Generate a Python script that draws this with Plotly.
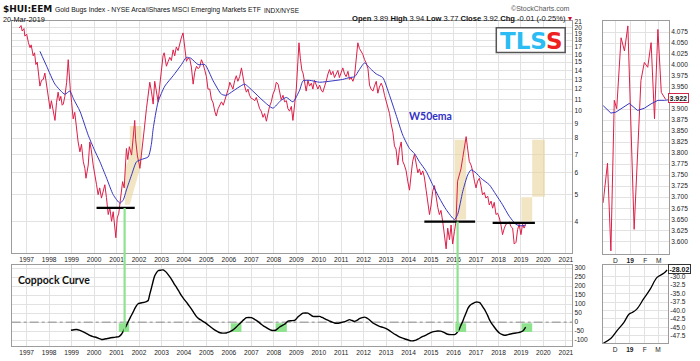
import math
import plotly.graph_objects as go

W, H = 700, 361

# ---------------- data ----------------
# weekly-ish HUI:EEM ratio (decimal years, ratio)
ratio_t = [
    1996.67, 1996.75, 1996.80, 1996.88, 1996.92,
    1997.00, 1997.08, 1997.15, 1997.20, 1997.29, 1997.35, 1997.41, 1997.47, 1997.52, 1997.59, 1997.66, 1997.74, 1997.81, 1997.87, 1997.93,
    1998.00, 1998.04, 1998.10, 1998.18, 1998.26, 1998.33, 1998.40, 1998.46, 1998.52, 1998.58, 1998.63, 1998.70, 1998.78, 1998.85, 1998.89, 1998.94,
    1999.00, 1999.07, 1999.14, 1999.22, 1999.29, 1999.37, 1999.44, 1999.52, 1999.59, 1999.64, 1999.70, 1999.74, 1999.81, 1999.87, 1999.96,
    2000.04, 2000.11, 2000.18, 2000.25, 2000.33, 2000.40, 2000.48, 2000.55, 2000.63, 2000.70, 2000.78, 2000.85, 2000.92, 2000.97,
    2001.03, 2001.10, 2001.18, 2001.27, 2001.34, 2001.40, 2001.44, 2001.50, 2001.57, 2001.67, 2001.74, 2001.81, 2001.85, 2001.93,
    2002.00, 2002.04, 2002.10, 2002.16, 2002.24, 2002.33, 2002.40, 2002.48, 2002.55, 2002.63, 2002.70, 2002.77, 2002.85, 2002.93,
    2003.00, 2003.07, 2003.12, 2003.22, 2003.30, 2003.37, 2003.44, 2003.52, 2003.59, 2003.66, 2003.74, 2003.81, 2003.88, 2003.96,
    2004.04, 2004.11, 2004.18, 2004.26, 2004.33, 2004.41, 2004.48, 2004.56, 2004.63, 2004.70, 2004.78, 2004.85, 2004.93,
    2005.00, 2005.07, 2005.15, 2005.22, 2005.30, 2005.37, 2005.44, 2005.52, 2005.60, 2005.67, 2005.75, 2005.83, 2005.92,
    2006.00, 2006.04, 2006.11, 2006.18, 2006.26, 2006.33, 2006.40, 2006.48, 2006.56, 2006.63, 2006.70, 2006.78, 2006.85, 2006.92,
    2007.00, 2007.07, 2007.15, 2007.22, 2007.30, 2007.37, 2007.44, 2007.52, 2007.59, 2007.67, 2007.74, 2007.81, 2007.89, 2007.96,
    2008.04, 2008.11, 2008.19, 2008.26, 2008.33, 2008.41, 2008.48, 2008.56, 2008.63, 2008.70, 2008.78, 2008.85, 2008.93,
    2009.00, 2009.07, 2009.12, 2009.18, 2009.25, 2009.30, 2009.37, 2009.44, 2009.52, 2009.59, 2009.67, 2009.74, 2009.81, 2009.89, 2009.96,
    2010.04, 2010.11, 2010.18, 2010.26, 2010.33, 2010.41, 2010.48, 2010.55, 2010.63, 2010.70, 2010.78, 2010.85, 2010.92,
    2011.00, 2011.07, 2011.15, 2011.22, 2011.30, 2011.37, 2011.44, 2011.52, 2011.59, 2011.66, 2011.74, 2011.81, 2011.88, 2011.96,
    2012.04, 2012.11, 2012.19, 2012.26, 2012.33, 2012.41, 2012.48, 2012.56, 2012.63, 2012.70, 2012.78, 2012.85, 2012.93,
    2013.00, 2013.07, 2013.15, 2013.22, 2013.30, 2013.37, 2013.44, 2013.52, 2013.59, 2013.67, 2013.74, 2013.81, 2013.89, 2013.96,
    2014.04, 2014.11, 2014.18, 2014.26, 2014.33, 2014.41, 2014.48, 2014.55, 2014.63, 2014.70, 2014.78, 2014.85, 2014.93,
    2015.00, 2015.07, 2015.15, 2015.22, 2015.30, 2015.37, 2015.44, 2015.52, 2015.59, 2015.67, 2015.74, 2015.82, 2015.89, 2015.96,
    2016.04, 2016.11, 2016.18, 2016.26, 2016.33, 2016.41, 2016.48, 2016.56, 2016.63, 2016.70, 2016.78, 2016.85, 2016.93,
    2017.00, 2017.07, 2017.15, 2017.22, 2017.29, 2017.37, 2017.44, 2017.52, 2017.59, 2017.67, 2017.74, 2017.81, 2017.89, 2017.96,
    2018.04, 2018.11, 2018.18, 2018.26, 2018.33, 2018.41, 2018.48, 2018.55, 2018.63, 2018.70, 2018.78, 2018.85, 2018.92,
    2019.00, 2019.07, 2019.14, 2019.21,
]
ratio_v = [
    19.9, 20.3, 19.4, 19.8, 18.6,
    18.9, 17.6, 16.9, 17.3, 15.8, 16.2, 14.7, 15.0, 13.7, 12.3, 12.9, 13.0, 13.7, 12.6, 11.5,
    10.6, 10.2, 10.9, 10.0, 9.26, 10.76, 11.7, 10.9, 11.3, 10.5, 10.6, 11.3, 12.7, 15.3, 13.4, 12.0,
    10.76, 9.38, 9.9, 8.64, 7.75, 7.14, 7.6, 6.58, 6.23, 5.74, 6.1, 6.40, 7.75, 7.3, 6.40,
    5.74, 5.44, 5.01, 5.3, 4.87, 5.2, 5.44, 4.9, 4.25, 4.5, 4.02, 4.35, 3.81, 3.51,
    4.13, 4.3, 4.87, 5.58, 5.3, 6.3, 7.34, 6.7, 7.45, 6.95, 8.19, 9.26, 7.9, 6.9,
    6.5, 6.23, 6.9, 7.5, 8.7, 10.2, 11.2, 12.7, 11.8, 10.6, 12.8, 11.8, 10.8, 12.5,
    14.2, 15.8, 16.2, 14.5, 15.1, 15.6, 15.2, 16.6, 15.8, 17.0, 16.5, 17.6, 18.3, 19.1,
    17.0, 15.1, 15.5, 15.4, 14.4, 12.5, 13.8, 14.5, 14.2, 14.4, 15.3, 14.8, 14.0,
    13.3, 12.0, 12.0, 11.05, 10.7, 10.0, 9.6, 10.2, 10.6, 10.8, 10.5, 11.0, 11.7,
    12.2, 12.7, 12.4, 12.0, 12.9, 13.4, 12.8, 13.3, 14.3, 13.0, 12.3, 11.7, 12.0, 11.4,
    11.1, 11.05, 10.9, 11.2, 10.6, 10.2, 10.0, 9.5, 9.8, 9.2, 9.8, 10.4, 10.8, 11.5,
    11.9, 12.7, 12.5, 11.5, 11.0, 11.4, 10.8, 10.9, 10.2, 10.0, 10.4, 9.26, 10.8,
    12.0, 15.0, 17.6, 15.5, 14.0, 13.7, 12.5, 11.8, 12.9, 12.3, 12.6, 12.0, 12.9, 12.4, 12.0,
    12.4, 11.9, 11.7, 12.2, 12.8, 13.6, 14.1, 13.5, 13.9, 13.2, 13.6, 14.0, 13.2,
    13.7, 14.3, 13.6, 13.3, 13.9, 13.0, 13.2, 12.8, 13.3, 15.5, 17.6, 16.8, 16.5, 16.0,
    15.3, 14.9, 14.2, 12.4, 12.0, 11.8, 12.3, 12.8, 11.6, 12.2, 12.6, 12.2, 11.4,
    10.9, 10.3, 9.8, 9.0, 8.4, 7.5, 7.3, 6.4, 7.3, 7.75, 6.6, 6.4, 6.1, 5.6,
    5.2, 5.9, 6.6, 7.0, 6.4, 6.0, 6.2, 5.9, 6.1, 5.8, 5.2, 4.8, 4.25,
    4.6, 5.15, 5.4, 4.9, 4.5, 4.25, 4.4, 4.0, 3.6, 3.2, 3.8, 3.45, 3.9, 3.33,
    3.7, 4.02, 5.6, 5.9, 6.2, 6.8, 7.5, 8.1, 7.3, 6.6, 6.4, 6.1, 5.6,
    5.3, 5.6, 5.74, 5.4, 5.0, 5.1, 4.87, 4.95, 4.6, 4.75, 4.48, 4.7, 4.25, 4.3,
    4.13, 3.9, 3.6, 3.8, 3.92, 3.95, 4.0, 3.85, 3.8, 3.33, 3.38, 3.75, 3.92,
    3.6, 3.92, 3.8, 3.92,
]

# 50-week EMA
ema_t = [1997.59, 1997.89, 1998.26, 1998.70, 1998.92, 1999.10, 1999.37, 1999.74, 2000.00, 2000.26,
         2000.56, 2000.85, 2001.15, 2001.30, 2001.44, 2001.67, 2001.89, 2002.10, 2002.41, 2002.55,
         2002.63, 2002.85, 2003.15, 2003.52, 2003.89, 2004.11, 2004.30, 2004.63, 2004.93, 2005.30,
         2005.67, 2005.89, 2006.18, 2006.45, 2006.70, 2007.07, 2007.52, 2007.96, 2008.30, 2008.56,
         2008.85, 2009.15, 2009.30, 2009.60, 2010.04, 2010.63, 2011.07, 2011.37, 2011.60, 2011.81,
         2012.04, 2012.30, 2012.56, 2012.85, 2013.15, 2013.44, 2013.74, 2014.04, 2014.26, 2014.48,
         2014.78, 2015.07, 2015.37, 2015.67, 2016.04, 2016.18, 2016.41, 2016.63, 2016.78, 2017.00,
         2017.22, 2017.59, 2017.89, 2018.18, 2018.48, 2018.78, 2019.00, 2019.21]
ema_v = [16.4, 14.5, 12.5, 11.5, 11.8, 11.0, 10.0, 8.19, 7.3, 6.58,
         5.74, 5.01, 4.67, 4.8, 5.21, 5.9, 6.58, 6.7, 6.85, 7.6,
         8.64, 10.8, 12.3, 13.4, 14.7, 15.6, 15.5, 14.7, 14.7, 12.85,
         11.5, 11.4, 11.8, 12.2, 12.5, 11.8, 10.9, 10.25, 10.9, 11.2,
         10.8, 11.9, 12.85, 12.9, 12.7, 12.85, 13.0, 13.2, 13.3, 14.1,
         14.9, 14.2, 13.6, 13.2, 11.4, 9.7, 8.2, 7.34, 7.04, 6.58,
         6.08, 5.44, 4.87, 4.43, 4.08, 4.25, 5.15, 5.9, 6.15, 6.0,
         5.74, 5.44, 5.01, 4.61, 4.19, 3.92, 3.87, 3.90]

# Coppock curve
cop_t = [1998.97, 1999.10, 1999.22, 1999.37, 1999.52, 1999.67, 1999.81, 1999.96, 2000.11, 2000.22,
         2000.33, 2000.44, 2000.55, 2000.70, 2000.85, 2000.96, 2001.07, 2001.15, 2001.22, 2001.29,
         2001.36, 2001.44, 2001.51, 2001.62, 2001.74, 2001.81, 2001.89, 2001.96, 2002.04, 2002.15,
         2002.26, 2002.33, 2002.41, 2002.48, 2002.56, 2002.63, 2002.70, 2002.78, 2002.85, 2002.96,
         2003.07, 2003.15, 2003.22, 2003.33, 2003.44, 2003.55, 2003.67, 2003.78, 2003.89, 2004.00,
         2004.11, 2004.22, 2004.33, 2004.44, 2004.55, 2004.67, 2004.78, 2004.89, 2005.00, 2005.11,
         2005.22, 2005.33, 2005.44, 2005.55, 2005.67, 2005.78, 2005.89, 2006.00, 2006.11, 2006.22,
         2006.33, 2006.44, 2006.55, 2006.67, 2006.78, 2006.89, 2007.00, 2007.11, 2007.22, 2007.33,
         2007.44, 2007.55, 2007.67, 2007.78, 2007.89, 2008.00, 2008.08, 2008.17, 2008.26, 2008.37,
         2008.48, 2008.56, 2008.63, 2008.78, 2008.93, 2009.00, 2009.07, 2009.18, 2009.30, 2009.41,
         2009.52, 2009.63, 2009.74, 2009.89, 2010.04, 2010.15, 2010.26, 2010.37, 2010.48, 2010.59,
         2010.70, 2010.81, 2010.92, 2011.07, 2011.22, 2011.37, 2011.48, 2011.59, 2011.70, 2011.81,
         2011.93, 2012.04, 2012.11, 2012.19, 2012.30, 2012.41, 2012.55, 2012.70, 2012.85, 2013.00,
         2013.15, 2013.30, 2013.44, 2013.59, 2013.74, 2013.89, 2014.00, 2014.11, 2014.22, 2014.33,
         2014.44, 2014.55, 2014.70, 2014.85, 2014.96, 2015.07, 2015.18, 2015.30, 2015.41, 2015.52,
         2015.63, 2015.74, 2015.89, 2016.04, 2016.11, 2016.18, 2016.26, 2016.33, 2016.41, 2016.48,
         2016.56, 2016.63, 2016.70, 2016.78, 2016.89, 2017.00, 2017.08, 2017.15, 2017.22, 2017.29,
         2017.37, 2017.44, 2017.52, 2017.59, 2017.70, 2017.81, 2017.92, 2018.04, 2018.15, 2018.26,
         2018.37, 2018.48, 2018.63, 2018.78, 2018.89, 2019.00, 2019.11, 2019.21]
cop_v = [-45, -42, -41, -46, -54, -63, -73, -80, -85, -91,
         -96, -95, -92, -88, -85, -83, -82, -76, -67, -53,
         -36, -18, 0, 28, 56, 75, 92, 102, 105, 108,
         111, 114, 120, 155, 193, 228, 257, 275, 285, 288,
         290, 284, 276, 258, 239, 215, 193, 170, 147, 128,
         111, 92, 74, 52, 32, 18, 10, 1, -8, -19,
         -30, -40, -49, -56, -60, -61, -60, -55, -49, -39,
         -27, -13, 0, 14, 25, 26, 25, 18, 10, 0,
         -12, -22, -30, -39, -45, -46, -45, -36, -27, -19,
         -12, -2, 6, 8, 10, 18, 28, 40, 50, 51,
         50, 41, 32, 31, 32, 26, 19, 12, 6, 0,
         -5, -6, -5, 0, 6, 14, 9, 4, 10, 19,
         25, 28, 25, 19, 8, -5, -14, -23, -29, -36,
         -47, -60, -71, -82, -89, -95, -100, -104, -103, -100,
         -93, -85, -76, -67, -60, -54, -51, -49, -50, -54,
         -61, -67, -69, -69, -64, -54, -37, -17, 5, 28,
         52, 74, 88, 98, 106, 111, 111, 109, 100, 87,
         72, 56, 36, 15, -8, -27, -45, -60, -68, -73,
         -71, -67, -63, -60, -58, -54, -46, -28]

# annotations drawn on the price panel
support_x0 = [2000.11, 2014.70, 2017.74]
support_x1 = [2001.81, 2016.96, 2019.62]
support_lvl = [4.49, 4.01, 3.97]

target_x0 = [2016.04, 2019.02, 2019.50]
target_x1 = [2016.56, 2019.50, 2020.07]
target_lo = [4.08, 4.02, 4.92]
target_hi = [7.9, 4.9, 7.9]
target_2001_t = [2001.37, 2001.37, 2001.59, 2001.59, 2002.11, 2002.11, 2001.59, 2001.37]
target_2001_v = [4.61, 6.2, 6.9, 8.84, 8.84, 6.49, 4.61, 4.61]

signal_t = [2001.36, 2016.18]
signal_lvl = [4.49, 4.01]
signal_box_x0 = [2001.10, 2006.08, 2008.08, 2016.08, 2019.02]
signal_box_x1 = [2001.56, 2006.56, 2008.58, 2016.56, 2019.50]
signal_box_lo, signal_box_hi = -54, -6

# small daily panels (right)
mini_ratio_d = ["2018-11-06", "2018-11-15", "2018-11-22", "2018-11-29", "2018-12-04", "2018-12-13",
                "2018-12-20", "2018-12-27", "2019-01-09", "2019-01-23", "2019-01-30", "2019-02-06",
                "2019-02-13", "2019-02-20", "2019-02-27", "2019-03-06", "2019-03-15"]
mini_ratio_v = [3.687, 3.777, 3.578, 3.920, 3.901, 4.062, 4.032, 4.089, 3.627, 3.965, 4.006, 3.995,
                4.051, 3.878, 4.081, 3.938, 3.922]
mini_ema_d = ["2018-11-06", "2018-11-22", "2018-12-02", "2018-12-16", "2018-12-30", "2019-01-16",
              "2019-01-30", "2019-02-13", "2019-02-27", "2019-03-13", "2019-03-20"]
mini_ema_v = [3.908, 3.891, 3.893, 3.904, 3.913, 3.897, 3.902, 3.912, 3.920, 3.920, 3.921]
mini_cop_d = ["2018-11-06", "2018-11-22", "2018-12-06", "2018-12-20", "2018-12-30", "2019-01-06",
              "2019-01-16", "2019-01-30", "2019-02-13", "2019-02-27", "2019-03-13", "2019-03-20"]
mini_cop_v = [-49.7, -48.3, -45.8, -43.4, -41.1, -40.6, -39.5, -36.5, -33.6, -30.2, -29.0, -28.02]

# tick labels
year_ticks = list(range(1997, 2022))
price_ticks = [4, 5, 6, 7, 8, 9, 10, 11, 12, 13, 14, 15, 16, 17, 18, 19, 20, 21]
cop_ticks = [-100, -50, 0, 50, 100, 150, 200, 250, 300]
mini_month_ticks = ["2018-12-01", "2019-01-01", "2019-02-01", "2019-03-01"]
mini_month_text = ["D", "<b>19</b>", "F", "M"]
mini_ratio_ticks = [3.600, 3.625, 3.650, 3.675, 3.700, 3.725, 3.750, 3.775, 3.800, 3.825, 3.850,
                    3.875, 3.900, 3.950, 3.975, 4.000, 4.025, 4.050, 4.075]
mini_cop_ticks = [-47.5, -45.0, -42.5, -40.0, -37.5, -35.0, -32.5, -30.0]

# ---------------- figure ----------------
RED = "#dc1f48"
BLUE = "#3535c0"
TAN = "rgba(234,212,156,0.6)"
GREEN = "#8fe38f"
GRID = "#e2e2e2"
FRAME = "#9c9c9c"
FONT = "Liberation Sans, Arial, sans-serif"

# panel geometry (pixels)
MAIN_X = (11.7, 573.0)
MAIN_Y = (18.3, 252.0)
COP_Y = (264.0, 346.0)
MINI_X = (604.0, 670.0)
MINI_Y = (18.3, 253.3)
MINI2_Y = (264.0, 343.3)
X_RANGE = [1996.333, 2021.28]


def xdom(a, b):
    return [a / W, b / W]


def ydom(top, bot):
    return [1 - bot / H, 1 - top / H]


main_range = [math.log10(3.095), math.log10(21.05)]
cop_range = [-133, 318]


def main_paper_y(v):
    d = ydom(*MAIN_Y)
    return d[0] + (math.log10(v) - main_range[0]) / (main_range[1] - main_range[0]) * (d[1] - d[0])


def cop_paper_y(v):
    d = ydom(*COP_Y)
    return d[0] + (v - cop_range[0]) / (cop_range[1] - cop_range[0]) * (d[1] - d[0])


fig = go.Figure()
common = dict(mode="lines", hoverinfo="skip", showlegend=False)

# tan target zones
fig.add_trace(go.Scatter(x=target_2001_t, y=target_2001_v, fill="toself", fillcolor=TAN,
                         line=dict(width=0), xaxis="x", yaxis="y", **common))
for x0, x1, lo, hi in zip(target_x0, target_x1, target_lo, target_hi):
    fig.add_trace(go.Scatter(x=[x0, x1, x1, x0, x0], y=[lo, lo, hi, hi, lo], fill="toself",
                             fillcolor=TAN, line=dict(width=0), xaxis="x", yaxis="y", **common))

fig.add_trace(go.Scatter(x=ratio_t, y=ratio_v, line=dict(color=RED, width=1), xaxis="x", yaxis="y", **common))
fig.add_trace(go.Scatter(x=ema_t, y=ema_v, line=dict(color=BLUE, width=1, shape="spline", smoothing=0.6),
                         xaxis="x", yaxis="y", **common))
for x0, x1, lvl in zip(support_x0, support_x1, support_lvl):
    fig.add_trace(go.Scatter(x=[x0, x1], y=[lvl, lvl], line=dict(color="black", width=2.2),
                             xaxis="x", yaxis="y", **common))

# Coppock: green signal boxes and zero line as traces, then the curve
for x0, x1 in zip(signal_box_x0, signal_box_x1):
    fig.add_trace(go.Scatter(x=[x0, x1, x1, x0, x0],
                             y=[signal_box_lo, signal_box_lo, signal_box_hi, signal_box_hi, signal_box_lo],
                             fill="toself", fillcolor=GREEN, line=dict(width=0), xaxis="x2", yaxis="y2", **common))
fig.add_trace(go.Scatter(x=X_RANGE, y=[0, 0], line=dict(color="#8a8a8a", width=1, dash="dashdot"),
                         xaxis="x2", yaxis="y2", **common))
fig.add_trace(go.Scatter(x=cop_t, y=cop_v, line=dict(color="black", width=1.4, shape="spline", smoothing=0.5),
                         xaxis="x2", yaxis="y2", **common))

fig.add_trace(go.Scatter(x=mini_ratio_d, y=mini_ratio_v, line=dict(color=RED, width=1), xaxis="x3", yaxis="y3", **common))
fig.add_trace(go.Scatter(x=mini_ema_d, y=mini_ema_v, line=dict(color=BLUE, width=1), xaxis="x3", yaxis="y3", **common))
fig.add_trace(go.Scatter(x=mini_cop_d, y=mini_cop_v, line=dict(color="black", width=1.3, shape="spline"),
                         xaxis="x4", yaxis="y4", **common))

shapes = []
for t, lvl in zip(signal_t, signal_lvl):
    shapes.append(dict(type="line", xref="x", yref="paper", x0=t, x1=t,
                       y0=cop_paper_y(signal_box_lo), y1=main_paper_y(lvl),
                       line=dict(color=GREEN, width=2.2), layer="above"))
# TLSS logo frame
shapes.append(dict(type="rect", xref="paper", yref="paper", x0=497 / W, x1=566 / W,
                   y0=1 - 50 / H, y1=1 - 25 / H, fillcolor="white", line=dict(color="#555", width=1.5),
                   layer="above"))

axis_common = dict(showgrid=True, gridcolor=GRID, gridwidth=1, showline=True, linecolor=FRAME,
                   linewidth=1, mirror=True, ticks="", ticklen=0, zeroline=False, fixedrange=True,
                   tickfont=dict(family=FONT, size=6.6, color="#222"))
year_text = [str(y) for y in year_ticks]

layout = dict(
    width=W, height=H, autosize=False, margin=dict(l=0, r=0, t=0, b=0),
    paper_bgcolor="white", plot_bgcolor="white", showlegend=False,
    xaxis=dict(domain=xdom(*MAIN_X), range=X_RANGE, tickvals=year_ticks, ticktext=year_text,
               anchor="y", **axis_common),
    yaxis=dict(domain=ydom(*MAIN_Y), type="log", range=main_range, tickvals=price_ticks,
               ticktext=[str(v) for v in price_ticks], side="right", anchor="x", **axis_common),
    xaxis2=dict(domain=xdom(*MAIN_X), range=X_RANGE, tickvals=year_ticks, ticktext=year_text,
                anchor="y2", **axis_common),
    yaxis2=dict(domain=ydom(*COP_Y), range=cop_range, tickvals=cop_ticks,
                ticktext=[str(v) for v in cop_ticks], side="right", anchor="x2", **axis_common),
    xaxis3=dict(domain=xdom(*MINI_X), type="date", range=["2018-11-06", "2019-03-22"],
                tickvals=mini_month_ticks, ticktext=mini_month_text, anchor="y3", **axis_common),
    yaxis3=dict(domain=ydom(*MINI_Y), range=[3.5705, 4.0998], tickvals=mini_ratio_ticks,
                ticktext=[f"{v:.3f}" for v in mini_ratio_ticks], side="right", anchor="x3", **axis_common),
    xaxis4=dict(domain=xdom(604.0, 669.0), type="date", range=["2018-11-06", "2019-03-22"],
                tickvals=mini_month_ticks, ticktext=mini_month_text, anchor="y4", **axis_common),
    yaxis4=dict(domain=ydom(*MINI2_Y), range=[-49.73, -26.48], tickvals=mini_cop_ticks,
                ticktext=[f"{v:.1f}" for v in mini_cop_ticks], side="right", anchor="x4", **axis_common),
    shapes=shapes,
)
fig.update_layout(**layout)


def ann(text, x, y, size, color="#111", xanchor="left", yanchor="middle", family=FONT, **kw):
    fig.add_annotation(text=text, x=x / W, y=1 - y / H, xref="paper", yref="paper", showarrow=False,
                       xanchor=xanchor, yanchor=yanchor, font=dict(family=family, size=size, color=color), **kw)


ann("<b>$HUI:EEM</b>", 1.5, 6.5, 9, family="DejaVu Sans, sans-serif")
ann("Gold Bugs Index - NYSE Arca/iShares MSCI Emerging Markets ETF", 53, 7.3, 6.8)
ann("INDX/NYSE", 262, 7.5, 6.5)
ann("20-Mar-2019", 1.5, 16.8, 7.3)
ann("©StockCharts.com", 573, 5.5, 7, color="#555", xanchor="right")
ann("<b>Open</b> 3.89 <b>High</b> 3.94 <b>Low</b> 3.77 <b>Close</b> 3.92 <b>Chg</b> -0.01 (-0.25%)"
    "<span style='color:#c8102e'> ▾</span>", 350, 15.5, 7.6)
ann("<b><span style='color:#2bbcf4'>TLS</span><span style='color:#ee2020'>S</span></b>", 531.5, 38, 23,
    xanchor="center", family="DejaVu Sans, sans-serif")
ann("<b>W50ema</b>", 431.5, 114, 10.5, color="#3131c4", xanchor="center", family="Lato, sans-serif")
ann("<b>Coppock Curve</b>", 16.5, 279, 10.5, color="#111", family="Lato, sans-serif")
ann("<b>3.922</b>", 669, 95.5, 7, color="#111", bgcolor="white", bordercolor="#d22a4a",
    borderwidth=1, borderpad=0.5)
ann("<b>-28.02</b>", 669, 268.3, 7, color="#111", bgcolor="white", bordercolor="#333",
    borderwidth=1, borderpad=0.5)

fig.write_html("out.html", config={"displayModeBar": False},
               post_script="document.body.style.margin='0';document.body.style.overflow='hidden';")
